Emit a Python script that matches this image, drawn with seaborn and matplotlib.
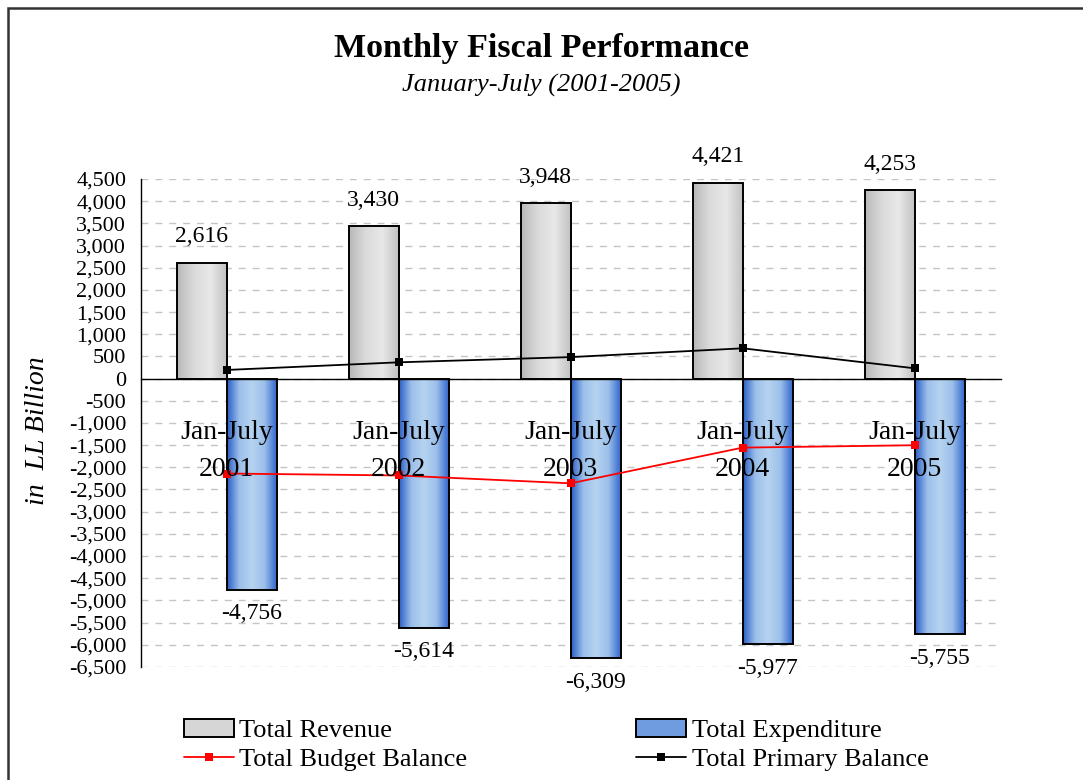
import numpy as np
import pandas as pd
import matplotlib
matplotlib.use("Agg")
import matplotlib.pyplot as plt
from matplotlib.colors import LinearSegmentedColormap
from matplotlib.lines import Line2D
from matplotlib.patches import Patch, Rectangle
from matplotlib.ticker import FuncFormatter, MultipleLocator, FixedLocator
import seaborn as sns

# data (LL billion), Jan-July of each year
years = ["2001", "2002", "2003", "2004", "2005"]
revenue = [2616, 3430, 3948, 4421, 4253]
expenditure = [-4756, -5614, -6309, -5977, -5755]
budget_balance = [-2140, -2184, -2361, -1556, -1502]
primary_balance = [195, 367, 485, 683, 232]

sns.set_style("white")
plt.rcParams["font.family"] = ["Liberation Serif", "DejaVu Serif"]
plt.rcParams.update({"text.color": "black", "axes.labelcolor": "black",
                     "xtick.color": "black", "ytick.color": "black",
                     "axes.edgecolor": "black"})

df = pd.DataFrame({
    "period": years * 2,
    "value": revenue + expenditure,
    "series": ["Total Revenue"] * 5 + ["Total Expenditure"] * 5,
})

fig = plt.figure(figsize=(10.83, 7.8), dpi=100)
ax = fig.add_axes([0.130, 0.145, 0.794, 0.6255])

sns.barplot(data=df, x="period", y="value", hue="series",
            hue_order=["Total Revenue", "Total Expenditure"],
            width=0.58, gap=0, dodge=True, legend=False,
            palette=["#d6d6d6", "#6f9ce0"], edgecolor="black", linewidth=1.4,
            ax=ax)

# gradient fills clipped to each bar
gray_cm = LinearSegmentedColormap.from_list("g", ["#b8b8b8", "#dadada", "#e8e8e8", "#c2c2c2"])
blue_cm = LinearSegmentedColormap.from_list("b", ["#2a5ec6", "#9cc0ea", "#b6d3f0", "#9cc0ea", "#3266cc"])
grad = np.linspace(0, 1, 256).reshape(1, -1)
n = len(years)
for i, bar in enumerate(ax.patches[:2 * n]):
    x0, y0 = bar.get_x(), bar.get_y()
    w, h = bar.get_width(), bar.get_height()
    cm = gray_cm if i < n else blue_cm
    im = ax.imshow(grad, cmap=cm, aspect="auto", extent=[x0, x0 + w, y0, y0 + h],
                   zorder=2.5, interpolation="bicubic")
    im.set_clip_path(bar)
    bar.set_facecolor("none")
    bar.set_zorder(3)
ax.set_xlim(-0.5, n - 0.5)
ax.set_ylim(-6500, 4500)

pos = np.arange(n)
sns.lineplot(x=pos, y=budget_balance, color="red", marker="s", markersize=6,
             markeredgewidth=0, linewidth=1.3, ax=ax, zorder=5)
sns.lineplot(x=pos, y=primary_balance, color="black", marker="s", markersize=6,
             markeredgewidth=0, linewidth=1.3, ax=ax, zorder=5)

# value labels
for i in range(n):
    ax.annotate(f"{revenue[i]:,}", (pos[i] - 0.145, revenue[i]), xytext=(0, 11),
                textcoords="offset points", ha="center", va="bottom", fontsize=17)
    ax.annotate(f"{expenditure[i]:,}", (pos[i] + 0.145, expenditure[i]), xytext=(0, -10),
                textcoords="offset points", ha="center", va="top", fontsize=17)

# axes styling
for s in ["top", "right"]:
    ax.spines[s].set_visible(False)
ax.spines["bottom"].set_position(("data", 0))
ax.spines["bottom"].set_linewidth(1.0)
ax.spines["left"].set_linewidth(1.0)
ax.spines["bottom"].set_zorder(2.6)

ax.yaxis.set_major_locator(MultipleLocator(500))
ax.yaxis.set_major_formatter(FuncFormatter(lambda v, p: f"{int(v):,}"))
ax.tick_params(axis="y", direction="inout", length=9, width=1, labelsize=16, pad=6)
ax.grid(axis="y", color="#c4c4c4", linestyle=(0, (5, 5)), linewidth=1)
ax.set_axisbelow(True)

ax.set_xticks(pos)
ax.set_xticklabels([f"Jan-July\n{y}" for y in years], fontsize=20, linespacing=1.6)
ax.tick_params(axis="x", which="major", length=0, pad=30)
ax.xaxis.set_minor_locator(FixedLocator(np.arange(-0.5, n, 1.0)))
ax.tick_params(axis="x", which="minor", direction="out", length=8, width=1)
ax.xaxis.set_zorder(6)

ax.set_xlabel("")
ax.set_ylabel("in  LL Billion", fontsize=20, style="italic")
ax.yaxis.set_label_coords(-0.106, 0.485)

fig.text(0.5, 0.938, "Monthly Fiscal Performance", ha="center", va="center",
         fontsize=24.5, fontweight="bold")
fig.text(0.5, 0.890, "January-July (2001-2005)", ha="center", va="center",
         fontsize=19, style="italic")

handles = [
    Patch(facecolor="#d6d6d6", edgecolor="black", linewidth=1.4, label="Total Revenue"),
    Line2D([], [], color="red", marker="s", markersize=6, markeredgewidth=0,
           linewidth=1.3, label="Total Budget Balance"),
    Patch(facecolor="#6f9ce0", edgecolor="black", linewidth=1.4, label="Total Expenditure"),
    Line2D([], [], color="black", marker="s", markersize=6, markeredgewidth=0,
           linewidth=1.3, label="Total Primary Balance"),
]
fig.legend(handles=handles, ncol=2, loc="center left", bbox_to_anchor=(0.16, 0.045),
           frameon=False, fontsize=19, handlelength=1.9, handletextpad=0.2,
           columnspacing=6.4, labelspacing=0.22, borderaxespad=0)

# outer chart frame
fig.patches.append(Rectangle((8 / 1083, -0.1), 1.2, 1 - 8 / 780 + 0.1, transform=fig.transFigure,
                             fill=False, edgecolor="#333333", linewidth=1.8))

fig.savefig("out.png", dpi=100)
